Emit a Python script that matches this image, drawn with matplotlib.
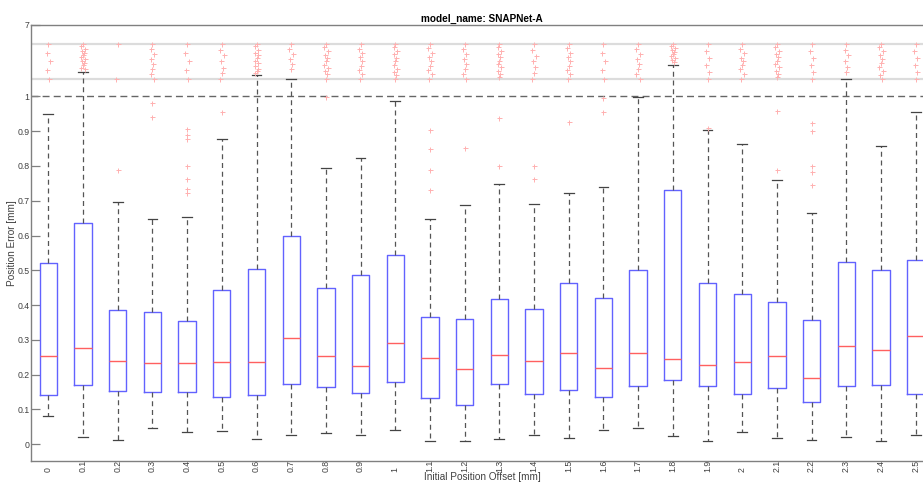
import numpy as np
import matplotlib
matplotlib.use("Agg")
import matplotlib.pyplot as plt
from matplotlib.ticker import NullLocator

plt.rcParams['font.family'] = ['Liberation Sans', 'DejaVu Sans']

# initial position offsets [mm]
offsets = ["0", "0.1", "0.2", "0.3", "0.4", "0.5", "0.6", "0.7", "0.8", "0.9", "1",
           "1.1", "1.2", "1.3", "1.4", "1.5", "1.6", "1.7", "1.8", "1.9", "2",
           "2.1", "2.2", "2.3", "2.4", "2.5"]

# box stats [mm]
q1 = [0.143, 0.170, 0.152, 0.149, 0.149, 0.135, 0.143, 0.172, 0.165, 0.147, 0.180,
      0.132, 0.114, 0.172, 0.145, 0.157, 0.136, 0.167, 0.185, 0.168, 0.144,
      0.161, 0.122, 0.167, 0.170, 0.144]
med = [0.255, 0.276, 0.238, 0.233, 0.234, 0.236, 0.236, 0.305, 0.254, 0.225, 0.290,
       0.247, 0.215, 0.258, 0.238, 0.263, 0.220, 0.263, 0.246, 0.227, 0.237,
       0.255, 0.190, 0.282, 0.272, 0.310]
q3 = [0.522, 0.635, 0.385, 0.379, 0.353, 0.444, 0.505, 0.600, 0.449, 0.486, 0.543,
      0.367, 0.361, 0.418, 0.390, 0.463, 0.421, 0.500, 0.731, 0.463, 0.431,
      0.408, 0.356, 0.523, 0.502, 0.529]
whislo = [0.080, 0.021, 0.013, 0.046, 0.034, 0.039, 0.014, 0.027, 0.032, 0.027, 0.042,
          0.010, 0.010, 0.016, 0.027, 0.017, 0.040, 0.048, 0.023, 0.010, 0.036,
          0.017, 0.013, 0.021, 0.010, 0.027]
whishi = [0.950, 3.04, 0.696, 0.647, 0.654, 0.876, 2.76, 2.48, 0.793, 0.822, 0.987,
          0.646, 0.689, 0.747, 0.691, 0.722, 0.740, 0.997, 3.60, 0.903, 0.862,
          0.760, 0.665, 2.48, 0.856, 0.954]

# outliers below the data limit (1 mm)
low_out = [[], [], [0.789], [0.980, 0.940],
           [0.905, 0.889, 0.877, 0.801, 0.761, 0.734, 0.722], [0.954], [], [], [0.997], [], [],
           [0.902, 0.848, 0.787, 0.730], [0.851], [0.937, 0.800], [0.800, 0.763], [0.925],
           [0.996, 0.955], [], [], [0.908], [], [0.957, 0.789],
           [0.922, 0.899, 0.800, 0.783, 0.744], [], [], []]

# outliers beyond 1 mm (compressed area)
high_out = [
    [5.40, 4.67, 3.97, 3.21, 2.48],
    [5.40, 5.23, 5.01, 4.84, 4.67, 4.50, 4.33, 4.16, 3.97, 3.77, 3.60, 3.38, 3.27],
    [5.40, 2.48],
    [5.40, 4.95, 4.53, 4.11, 3.69, 3.27, 2.90, 2.48],
    [5.40, 4.67, 3.97, 3.21, 2.48],
    [5.40, 4.89, 4.45, 3.97, 3.41, 2.99, 2.48],
    [5.40, 5.23, 4.89, 4.67, 4.45, 4.22, 3.97, 3.77, 3.55, 3.32, 3.15, 2.99],
    [5.40, 4.95, 4.53, 4.11, 3.69, 3.27],
    [5.40, 5.12, 4.78, 4.50, 4.22, 3.94, 3.66, 3.38, 3.10, 2.84, 2.48],
    [5.40, 5.01, 4.61, 4.28, 3.94, 3.55, 3.21, 2.84, 2.48],
    [5.40, 5.12, 4.84, 4.56, 4.22, 3.94, 3.60, 3.32, 3.04, 2.76, 2.48],
    [5.40, 5.06, 4.67, 4.28, 3.94, 3.55, 3.21, 2.84, 2.48],
    [5.40, 4.95, 4.53, 4.11, 3.69, 3.27, 2.90, 2.48],
    [5.40, 5.12, 4.84, 4.56, 4.28, 4.00, 3.72, 3.43, 3.15, 2.87, 2.59],
    [5.40, 4.89, 4.39, 3.94, 3.43, 2.99, 2.48],
    [5.40, 5.06, 4.67, 4.28, 3.94, 3.55, 3.21, 2.84, 2.48],
    [5.40, 4.67, 3.94, 3.21, 2.48],
    [5.40, 4.95, 4.53, 4.11, 3.69, 3.27, 2.90, 2.48],
    [5.40, 5.23, 5.06, 4.89, 4.73, 4.56, 4.39, 4.22, 4.05, 3.88],
    [5.40, 4.81, 4.22, 3.63, 3.04, 2.48],
    [5.40, 5.01, 4.61, 4.22, 3.94, 3.66, 3.27, 2.87, 2.48],
    [5.40, 5.12, 4.84, 4.56, 4.28, 4.00, 3.72, 3.43, 3.15, 2.87, 2.59],
    [5.40, 4.81, 4.22, 3.63, 3.04, 2.48],
    [5.40, 4.89, 4.45, 3.97, 3.49, 3.04],
    [5.40, 5.12, 4.84, 4.50, 4.16, 3.83, 3.49, 3.15, 2.82, 2.48],
    [5.40, 4.81, 4.22, 3.63, 3.04, 2.48],
]

data_lim = 1.0
compress_lo, compress_hi = 2.48, 5.40
k = 0.03415  # squeeze factor above data limit


def fwd(y):
    y = np.asarray(y, dtype=float)
    return np.where(y <= data_lim, y, data_lim + (y - data_lim) * k)


def inv(d):
    d = np.asarray(d, dtype=float)
    return np.where(d <= data_lim, d, data_lim + (d - data_lim) / k)


fig = plt.figure(figsize=(9.23, 4.82), dpi=100)
ax = fig.add_axes([31 / 923, 21 / 482, 902 / 923, 436 / 482])
ax.set_yscale('function', functions=(fwd, inv))

n = len(offsets)
pos = np.arange(n)
stats = []
for i in range(n):
    stats.append(dict(med=med[i], q1=q1[i], q3=q3[i], whislo=whislo[i],
                      whishi=whishi[i], fliers=[]))

ax.axhline(compress_lo, color='#dcdcdc', lw=1.6, zorder=0)
ax.axhline(compress_hi, color='#dcdcdc', lw=1.6, zorder=0)
ax.axhline(data_lim, color='#666666', lw=1.0, ls=(0, (5, 3)), zorder=1)

ax.bxp(stats, positions=pos, widths=0.5, capwidths=0.28, showfliers=False,
       boxprops=dict(color='#6262ff', lw=1.0),
       medianprops=dict(color='#ff6060', lw=1.0),
       whiskerprops=dict(color='#555555', lw=0.9, ls=(0, (4, 3))),
       capprops=dict(color='#444444', lw=0.9))

# outliers, the compressed ones get a small fixed jitter like the original
flier = dict(marker='+', color='#ffb0b0', ms=3.6, mew=0.7, ls='none')
jit = [0.0, -0.05, 0.05, -0.03, 0.03]
for i in range(n):
    if low_out[i]:
        ax.plot([pos[i]] * len(low_out[i]), low_out[i], **flier)
    xs = [pos[i] + jit[j % len(jit)] for j in range(len(high_out[i]))]
    ax.plot(xs, high_out[i], **flier)

ax.set_xlim(-0.5, n - 0.5)
ax.set_ylim(-0.048, 7)

yt = [0, 0.1, 0.2, 0.3, 0.4, 0.5, 0.6, 0.7, 0.8, 0.9, 1, 7]
ax.set_yticks(yt)
ax.set_yticklabels(["0", "0.1", "0.2", "0.3", "0.4", "0.5", "0.6", "0.7", "0.8", "0.9", "1", "7"])
ax.yaxis.set_minor_locator(NullLocator())
ax.tick_params(axis='y', direction='in', length=6.5, width=0.9, color='#808080',
               labelsize=6.3, labelcolor='#404040', pad=1)

ax.set_xticks(pos)
ax.set_xticklabels(offsets, rotation=90, rotation_mode='anchor', ha='left', va='center')
ax.tick_params(axis='x', length=0, labelsize=6.3, labelcolor='#404040', pad=8)

for sp in ax.spines.values():
    sp.set_color('#808080')
    sp.set_linewidth(1.0)

ax.set_xlabel("Initial Position Offset [mm]", fontsize=7.2, color='#404040')
ax.xaxis.set_label_coords(0.5, -0.026)
ax.set_ylabel("Position Error [mm]", fontsize=7.2, color='#404040')
ax.yaxis.set_label_coords(-0.0155, 0.5)
ax.set_title("model_name: SNAPNet-A", fontsize=7.2, fontweight='bold', pad=2)

fig.savefig("out.png", dpi=100)
